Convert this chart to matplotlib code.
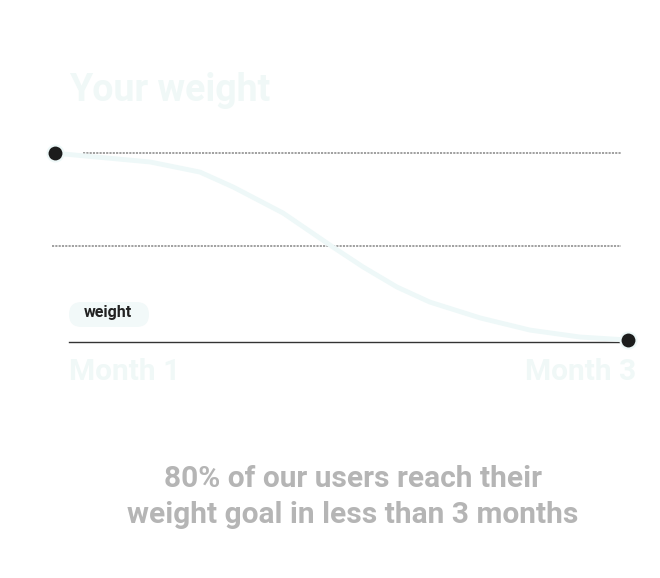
import matplotlib
matplotlib.use("Agg")
import matplotlib.pyplot as plt
from matplotlib.patches import FancyBboxPatch

# ----- Datos -----
TITULO = "Your weight"
ETIQUETA = "weight"
MESES = ["Month 1", "Month 3"]
MENSAJE = "80% of our users reach their\nweight goal in less than 3 months"

# curva de peso normalizada (0 = inicio, 1 = mes 3)
tiempo = [0.0, 0.014, 0.166, 0.253, 0.311, 0.398, 0.485, 0.538, 0.597,
          0.654, 0.742, 0.829, 0.916, 1.0]
peso = [1.0, 0.995, 0.952, 0.898, 0.818, 0.679, 0.497, 0.390, 0.283,
        0.203, 0.118, 0.053, 0.016, 0.0]
niveles_guia = [1.0, 0.5]
inicio_guia = [0.049, -0.005]
fin_guia = 0.988
nivel_base = -0.011

# ----- Estilo -----
plt.rcParams['font.family'] = ['Roboto', 'DejaVu Sans']
COLOR_CURVA = '#eef8f8'
COLOR_TEXTO_CLARO = '#f0f8f7'
COLOR_PUNTO = '#1c1c1c'

W, H = 660, 578
fig = plt.figure(figsize=(W / 100, H / 100), dpi=100)
fig.patch.set_facecolor('white')

# ejes: x=0 -> 55px, x=1 -> 628px ; y=1 -> 153px, y=0 -> 340px desde arriba
ax = fig.add_axes([55 / W, (H - 340) / H, 573 / W, 187 / H])
ax.set_xlim(0, 1)
ax.set_ylim(0, 1)
ax.axis('off')

# lineas guia punteadas
for nivel, x0 in zip(niveles_guia, inicio_guia):
    ax.plot([x0, fin_guia], [nivel, nivel], color='#a0a0a0', lw=1.4,
            linestyle=(0, (1.1, 0.6)), dash_capstyle='butt', clip_on=False, zorder=1)

# linea base
ax.plot([0.024, 1.0], [nivel_base, nivel_base], color='#333333', lw=1.0,
        clip_on=False, zorder=2)

# curva
ax.plot(tiempo, peso, color=COLOR_CURVA, lw=3.5, solid_capstyle='round',
        clip_on=False, zorder=3)

# puntos inicio / fin
ax.plot([tiempo[0], tiempo[-1]], [peso[0], peso[-1]], 'o', color=COLOR_PUNTO,
        markersize=11.5, markeredgecolor=COLOR_CURVA, markeredgewidth=1.5,
        clip_on=False, zorder=4)

# titulo
fig.text(69 / W, (H - 101) / H, TITULO, fontsize=27, fontweight='bold',
         color=COLOR_TEXTO_CLARO, ha='left', va='baseline')

# etiquetas de meses
fig.text(69 / W, (H - 380) / H, MESES[0], fontsize=21.5, fontweight='bold',
         color=COLOR_TEXTO_CLARO, ha='left', va='baseline')
fig.text(636 / W, (H - 380) / H, MESES[1], fontsize=21.5, fontweight='bold',
         color=COLOR_TEXTO_CLARO, ha='right', va='baseline')

# etiqueta "weight" con fondo redondeado
pill = FancyBboxPatch((0.69, (H - 327) / 100), 0.80, 0.25,
                      boxstyle='round,pad=0,rounding_size=0.125',
                      transform=fig.dpi_scale_trans, facecolor='#f2f9f9',
                      edgecolor='none')
fig.add_artist(pill)
fig.text(108 / W, (H - 313) / H, ETIQUETA, fontsize=11.5, fontweight='bold',
         color='#222222', ha='center', va='center')

# mensaje inferior
fig.text(353 / W, (H - 497) / H, MENSAJE, fontsize=21.5, fontweight='bold',
         color='#b5b5b5', ha='center', va='center', multialignment='center',
         linespacing=1.33)

fig.savefig('out.png', dpi=100, facecolor='white')
